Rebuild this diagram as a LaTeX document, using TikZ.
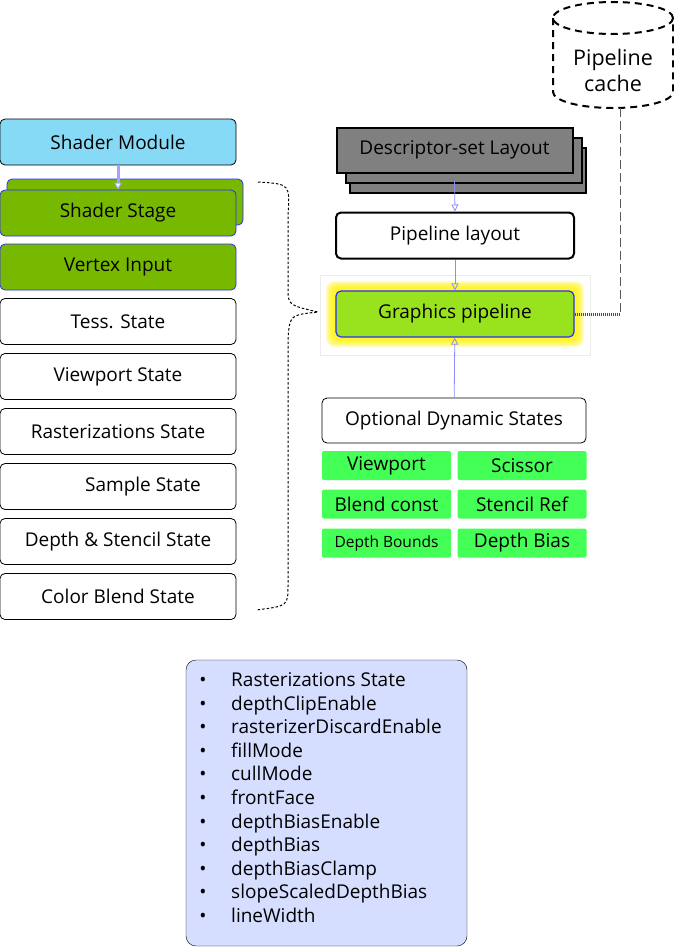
\documentclass[tikz,border=0pt]{standalone}
\usepackage{fontspec}
\setmainfont{Open Sans}
\usetikzlibrary{arrows.meta,backgrounds}

\definecolor{modblue}{HTML}{87DAF5}
\definecolor{nvgreen}{HTML}{76B900}
\definecolor{gpgreen}{HTML}{99E21E}
\definecolor{dyngreen}{HTML}{44FF55}
\definecolor{descgray}{HTML}{808080}
\definecolor{listblue}{HTML}{D5DEFF}
\definecolor{linkblue}{HTML}{8C8CFF}
\definecolor{edgeblue}{HTML}{2C2CFF}

\begin{document}
\begin{tikzpicture}[x=1pt,y=-1pt,
  every node/.style={font=\fontsize{19}{23}\selectfont},
  statebox/.style={draw,rounded corners=5pt,line width=0.8pt,minimum width=236pt,minimum height=46pt,inner sep=0pt},
  greenbox/.style={statebox,fill=nvgreen,draw=edgeblue},
  descbox/.style={draw,line width=2pt,fill=descgray,minimum width=236pt,minimum height=45pt,inner sep=0pt},
  dynbox/.style={fill=dyngreen,rounded corners=2pt,minimum width=129pt,minimum height=29pt,inner sep=0pt},
  link/.style={draw=linkblue,line width=0.8pt,-{Triangle[open,length=7pt,width=7pt]}},
  item/.style={anchor=west,inner sep=0pt,text height=13pt,text depth=4pt,font=\fontsize{19}{23}\selectfont}]
\useasboundingbox (0,0) rectangle (674,948);

% left column
\node [statebox,fill=modblue] (sm) at (118,142) {Shader Module};
\node [greenbox] (ssb) at (125,202) {};
\node [greenbox] (ss) at (118,213) {Shader Stage};
\node [greenbox] (vi) at (118,267) {Vertex Input};
\node [statebox] (ts) at (118,321.5) {Tess. State};
\node [statebox] (vs) at (118,376.5) {Viewport State};
\node [statebox] (rs) at (118,431.5) {Rasterizations State};
\node [statebox] (sa) at (118,486.5) {\hspace{50pt}Sample State};
\node [statebox] (ds) at (118,541.5) {Depth \& Stencil State};
\node [statebox] (cb) at (118,596.5) {Color Blend State};
\draw [draw=linkblue!80,line width=3pt,-{Triangle[open,fill=white,length=7pt,width=8pt,line width=1pt]}] (sm) -- (ss.north);

% right column
\draw [gray!15] (320,275) rectangle (590,355);
\node [descbox] (dl3) at (468,170) {};
\node [descbox] (dl2) at (463.5,160) {};
\node [descbox] (dl) at (454.5,150) {Descriptor-set Layout};
\node [statebox,line width=2pt,minimum width=238pt] (pl) at (455,235.5) {Pipeline layout};
\node [statebox,fill=gpgreen,draw=edgeblue,line width=1.2pt,minimum width=238pt] (gp) at (455,314) {Graphics pipeline};
\begin{scope}[on background layer]
  \foreach \g in {9,7,5,3}
    \fill [yellow,opacity=0.35,rounded corners=8pt] ([shift={(-\g,-\g)}]gp.north west) rectangle ([shift={(\g,\g)}]gp.south east);
\end{scope}
\node [statebox,minimum width=264pt,minimum height=45pt] (ods) at (454,420.5) {Optional Dynamic States};
\node [dynbox] (vp) at (386.5,465.5) {Viewport};
\node [dynbox] (sc) at (522,465.5) {Scissor};
\node [dynbox] (bc) at (386.5,504) {Blend const};
\node [dynbox] (sr) at (522,504) {Stencil Ref};
\node [dynbox,font=\fontsize{15.5}{18}\selectfont] (db) at (386.5,543) {Depth Bounds};
\node [dynbox] (dbi) at (522,543) {Depth Bias};
\draw [link] (dl.south |- 0,181) -- (pl.north);
\draw [link] (pl) -- (gp);
\draw [link] (ods) -- (gp);

% pipeline cache
\draw [line width=2pt,dash pattern=on 7pt off 5pt] (553,18) -- (553,92) arc[start angle=180,end angle=360,x radius=60,y radius=-16] -- (673,18);
\draw [line width=2pt,dash pattern=on 7pt off 5pt] (613,18) ellipse [x radius=60,y radius=16];
\node [align=center,font=\fontsize{21.5}{26}\selectfont] (pc) at (613,70) {Pipeline\\cache};
\coordinate (pcb) at (620,108);
\draw [gray!70!black,line width=1pt,dash pattern=on 9pt off 4pt] (pcb) -- (pcb |- gp.east) coordinate (pcc);
\draw [gray!60!black,line width=3pt,dash pattern=on 1pt off 1pt] (pcc) -- (gp.east);

% brace
\coordinate (bt) at (318,312);
\draw [line width=1pt,dash pattern=on 2.5pt off 2pt] (258,182) .. controls (290,184) .. (288,215) -- (288,288) .. controls (288,305) .. (bt) .. controls (290,315) .. (288,338) -- (288,585) .. controls (288,606) .. (256,610);

% rasterization list
\node [draw,fill=listblue,rounded corners=10pt,minimum width=281pt,minimum height=286pt] (rl) at (326.5,803) {};
\foreach \t [count=\i] in {Rasterizations State,depthClipEnable,rasterizerDiscardEnable,fillMode,cullMode,frontFace,depthBiasEnable,depthBias,depthBiasClamp,slopeScaledDepthBias,lineWidth}{
  \node [item] (it\i) at (231,682+23.6*\i-23.6) {\t};
  \node [item,anchor=center] (bu\i) at (203,682+23.6*\i-23.6) {\textbullet};
}
\end{tikzpicture}
\end{document}
